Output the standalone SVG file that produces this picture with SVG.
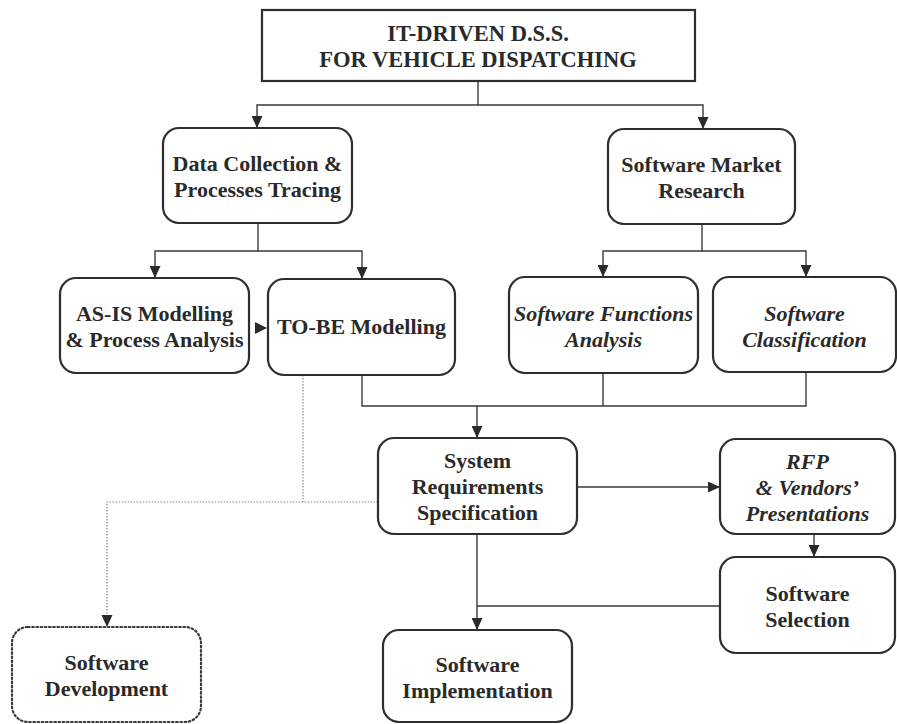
<svg xmlns="http://www.w3.org/2000/svg" width="897" height="724" viewBox="0 0 897 724">
<style>
.bg{fill:#ffffff}
.box{fill:#ffffff;stroke:#2e2e2e;stroke-width:2.2}
.dbox{fill:#ffffff;stroke:#3a3a3a;stroke-width:2.2;stroke-dasharray:1.6 2.6;stroke-linecap:round}
.ln{fill:none;stroke:#3a3a3a;stroke-width:1.4}
.dl{fill:none;stroke:#8a8a8a;stroke-width:1.2;stroke-dasharray:1.5 1.5}
.t{font-family:"Liberation Serif","Times New Roman",serif;font-weight:bold;font-size:22px;fill:#2a2a2a;text-anchor:middle}
.i{font-style:italic}
.title{font-size:22.5px}
.ah{fill:#2a2a2a}
</style>
<defs>
<marker id="ah" viewBox="0 0 12 11" refX="12" refY="5.5" markerWidth="12" markerHeight="11" orient="auto" markerUnits="userSpaceOnUse">
<path d="M0,0 L12,5.5 L0,11 z" fill="#2a2a2a"/>
</marker>
</defs>
<rect class="bg" x="0" y="0" width="897" height="724"/>

<g id="connectors">
<path class="ln" d="M478,81 V105"/>
<path class="ln" d="M478,105 H257 V128" marker-end="url(#ah)"/>
<path class="ln" d="M478,105 H703 V129" marker-end="url(#ah)"/>
<path class="ln" d="M258,223 V251 H155 V278" marker-end="url(#ah)"/>
<path class="ln" d="M258,251 H362 V279" marker-end="url(#ah)"/>
<path class="ln" d="M702,224 V251 H603 V277" marker-end="url(#ah)"/>
<path class="ln" d="M702,251 H806 V277" marker-end="url(#ah)"/>
<polygon class="ah" points="255,322 267,328 255,334"/>
<path class="ln" d="M362,375 V406 H806 V372"/>
<path class="ln" d="M603,373 V406"/>
<path class="ln" d="M477,406 V438" marker-end="url(#ah)"/>
<path class="ln" d="M577,487 H720" marker-end="url(#ah)"/>
<path class="ln" d="M814,534 V557" marker-end="url(#ah)"/>
<path class="ln" d="M477,534 V630" marker-end="url(#ah)"/>
<path class="ln" d="M720,606 H477"/>
<path class="dl" d="M303,375 V502"/>
<path class="dl" d="M378,502 H107 V615"/>
<path d="M101.5,615 L112.5,615 L107,627 z" fill="#2a2a2a"/>
</g>

<g id="n-title">
<rect class="box" x="262" y="10" width="433" height="71"/>
<text class="t title" x="478" y="41">IT-DRIVEN D.S.S.</text>
<text class="t title" x="478" y="67">FOR VEHICLE DISPATCHING</text>
</g>

<g id="n-data">
<rect class="box" x="163" y="128" width="189" height="95" rx="16"/>
<text class="t" x="257.5" y="171">Data Collection &amp;</text>
<text class="t" x="257.5" y="197">Processes Tracing</text>
</g>

<g id="n-market">
<rect class="box" x="608" y="129" width="187" height="95" rx="16"/>
<text class="t" x="701.5" y="172">Software Market</text>
<text class="t" x="701.5" y="198">Research</text>
</g>

<g id="n-asis">
<rect class="box" x="60" y="278" width="189" height="95" rx="16"/>
<text class="t" x="154.5" y="321">AS-IS Modelling</text>
<text class="t" x="154.5" y="347">&amp; Process Analysis</text>
</g>

<g id="n-tobe">
<rect class="box" x="268" y="279" width="187" height="96" rx="16"/>
<text class="t" x="361.5" y="334">TO-BE Modelling</text>
</g>

<g id="n-functions">
<rect class="box" x="509" y="277" width="189" height="96" rx="16"/>
<text class="t i" x="603.5" y="321">Software Functions</text>
<text class="t i" x="603.5" y="347">Analysis</text>
</g>

<g id="n-classification">
<rect class="box" x="713" y="277" width="183" height="95" rx="16"/>
<text class="t i" x="804.5" y="321">Software</text>
<text class="t i" x="804.5" y="347">Classification</text>
</g>

<g id="n-system">
<rect class="box" x="378" y="438" width="199" height="96" rx="16"/>
<text class="t" x="477.5" y="468">System</text>
<text class="t" x="477.5" y="494">Requirements</text>
<text class="t" x="477.5" y="520">Specification</text>
</g>

<g id="n-rfp">
<rect class="box" x="720" y="439" width="175" height="95" rx="16"/>
<text class="t i" x="807.5" y="469">RFP</text>
<text class="t i" x="807.5" y="495">&amp; Vendors’</text>
<text class="t i" x="807.5" y="521">Presentations</text>
</g>

<g id="n-selection">
<rect class="box" x="720" y="557" width="175" height="96" rx="16"/>
<text class="t" x="807.5" y="601">Software</text>
<text class="t" x="807.5" y="627">Selection</text>
</g>

<g id="n-implementation">
<rect class="box" x="383" y="630" width="189" height="92" rx="16"/>
<text class="t" x="477.5" y="672">Software</text>
<text class="t" x="477.5" y="698">Implementation</text>
</g>

<g id="n-development">
<rect class="dbox" x="12" y="627" width="189" height="95" rx="16"/>
<text class="t" x="106.5" y="670">Software</text>
<text class="t" x="106.5" y="696">Development</text>
</g>
</svg>
